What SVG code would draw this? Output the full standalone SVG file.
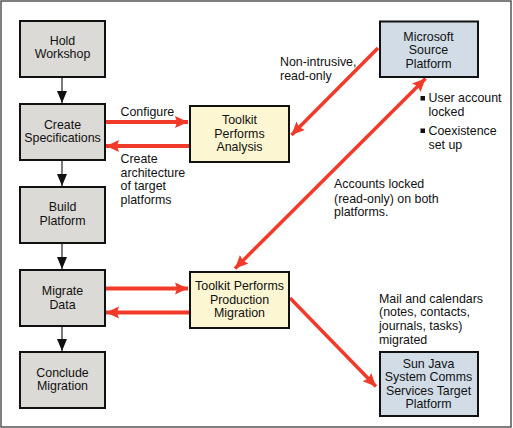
<svg xmlns="http://www.w3.org/2000/svg" width="513" height="428" viewBox="0 0 513 428">
<style>
text{font-family:"Liberation Sans",Arial,Helvetica,sans-serif;font-size:12.4px;fill:#111}
.c{text-anchor:middle}
.g{fill:#dcdad6;stroke:#111;stroke-width:2}
.y{fill:#fcf6d2;stroke:#111;stroke-width:2}
.b{fill:#d1dce7;stroke:#111;stroke-width:2}
.k{stroke:#222;stroke-width:1.2;fill:none}
.r{stroke:#f23a2a;stroke-width:4;fill:none}
.rd{stroke:#f23a2a;stroke-width:3.5;fill:none}
</style>
<defs>
<marker id="ak" markerUnits="userSpaceOnUse" markerWidth="12" markerHeight="12" viewBox="0 0 12 12" refX="12" refY="6" orient="auto">
<path d="M0,1 L12,6 L0,11 Z" fill="#111"/>
</marker>
<marker id="ar" markerUnits="userSpaceOnUse" markerWidth="13" markerHeight="13" viewBox="0 0 13 13" refX="13" refY="6.5" orient="auto-start-reverse">
<path d="M0,0.5 L13,6.5 L0,12.5 L2,6.5 Z" fill="#f23a2a"/>
</marker>
</defs>
<rect x="1" y="1" width="510" height="426" fill="#fff" stroke="#555" stroke-width="1.5"/>
<g id="connectors">
<line class="k" x1="62" y1="77" x2="62" y2="103" marker-end="url(#ak)"/>
<line class="k" x1="62" y1="160" x2="62" y2="186" marker-end="url(#ak)"/>
<line class="k" x1="62" y1="243" x2="62" y2="269" marker-end="url(#ak)"/>
<line class="k" x1="62" y1="326" x2="62" y2="351" marker-end="url(#ak)"/>
<line class="r" x1="106" y1="122" x2="188" y2="122" marker-end="url(#ar)"/>
<line class="r" x1="189" y1="146" x2="106" y2="146" marker-end="url(#ar)"/>
<line class="r" x1="106" y1="288.5" x2="188" y2="288.5" marker-end="url(#ar)"/>
<line class="r" x1="189" y1="312.5" x2="106" y2="312.5" marker-end="url(#ar)"/>
<line class="rd" x1="378" y1="48" x2="291.5" y2="135" marker-end="url(#ar)"/>
<line class="rd" x1="235" y1="268.5" x2="425.5" y2="78.5" marker-start="url(#ar)" marker-end="url(#ar)"/>
<line class="rd" x1="290" y1="298" x2="376" y2="386.5" marker-end="url(#ar)"/>
</g>
<g id="hold-workshop">
<rect class="g" x="20" y="21" width="85" height="56"/>
<text class="c" x="62.5" y="44.5">Hold</text>
<text class="c" x="62.5" y="58">Workshop</text>
</g>
<g id="create-specifications">
<rect class="g" x="20" y="104" width="85" height="56"/>
<text class="c" x="62.5" y="128.5">Create</text>
<text class="c" x="62.5" y="142">Specifications</text>
</g>
<g id="build-platform">
<rect class="g" x="20" y="187" width="85" height="56"/>
<text class="c" x="62.5" y="210.5">Build</text>
<text class="c" x="62.5" y="224.5">Platform</text>
</g>
<g id="migrate-data">
<rect class="g" x="20" y="270" width="85" height="56"/>
<text class="c" x="62.5" y="294.5">Migrate</text>
<text class="c" x="62.5" y="308.5">Data</text>
</g>
<g id="conclude-migration">
<rect class="g" x="20" y="352" width="85" height="56"/>
<text class="c" x="62.5" y="376.5">Conclude</text>
<text class="c" x="62.5" y="390">Migration</text>
</g>
<g id="toolkit-analysis">
<rect class="y" x="190" y="106" width="99" height="56"/>
<text class="c" x="239.5" y="123.5">Toolkit</text>
<text class="c" x="239.5" y="137.5">Performs</text>
<text class="c" x="239.5" y="151">Analysis</text>
</g>
<g id="toolkit-production">
<rect class="y" x="190" y="272" width="99" height="56"/>
<text class="c" x="239.5" y="289.5">Toolkit Performs</text>
<text class="c" x="239.5" y="303.5">Production</text>
<text class="c" x="239.5" y="317">Migration</text>
</g>
<g id="microsoft-source">
<rect class="b" x="380" y="21.5" width="98" height="55.5"/>
<text class="c" x="428.5" y="40.5">Microsoft</text>
<text class="c" x="428.5" y="54">Source</text>
<text class="c" x="428.5" y="67.5">Platform</text>
</g>
<g id="sun-java-target">
<rect class="b" x="380" y="352" width="98" height="64"/>
<text class="c" x="428.5" y="367.5">Sun Java</text>
<text class="c" x="428.5" y="381">System Comms</text>
<text class="c" x="428.5" y="394.5">Services Target</text>
<text class="c" x="428.5" y="408">Platform</text>
</g>
<g id="labels">
<text x="120.5" y="116">Configure</text>
<text x="120.5" y="163">Create</text>
<text x="120.5" y="176.5">architecture</text>
<text x="120.5" y="190">of target</text>
<text x="120.5" y="204">platforms</text>
<text x="280" y="66">Non-intrusive,</text>
<text x="280" y="80">read-only</text>
<rect x="420.5" y="96" width="4.5" height="4.5" fill="#111"/>
<text x="428.5" y="102">User account</text>
<text x="428.5" y="115.5">locked</text>
<rect x="420.5" y="128.5" width="4.5" height="4.5" fill="#111"/>
<text x="428.5" y="134.5">Coexistence</text>
<text x="428.5" y="149">set up</text>
<text x="334" y="188">Accounts locked</text>
<text x="334" y="202.5">(read-only) on both</text>
<text x="334" y="216">platforms.</text>
<text x="379" y="302.5">Mail and calendars</text>
<text x="379" y="316">(notes, contacts,</text>
<text x="379" y="330">journals, tasks)</text>
<text x="379" y="343.5">migrated</text>
</g>
</svg>
